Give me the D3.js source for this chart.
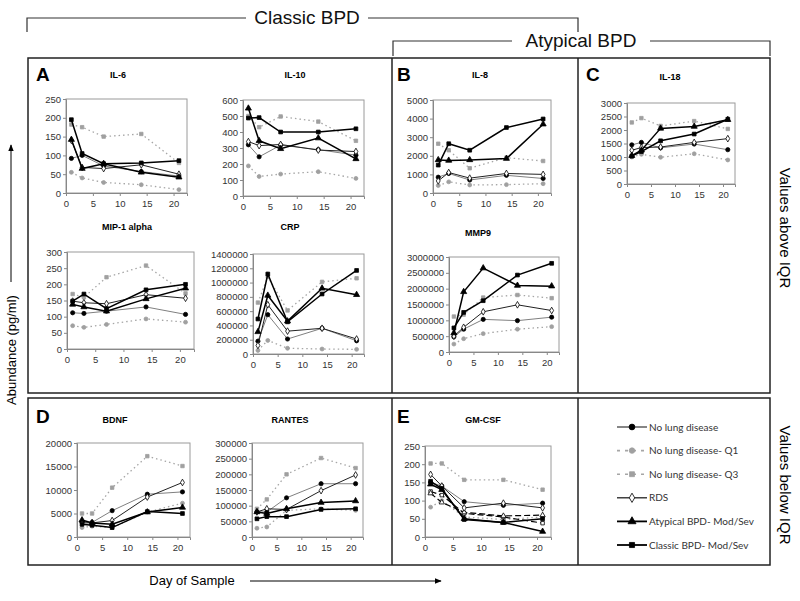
<!DOCTYPE html>
<html>
<head>
<meta charset="utf-8">
<script src="https://d3js.org/d3.v7.min.js"></script>
<style>
  body { margin: 0; background: #fff; }
  svg { display: block; }
</style>
</head>
<body>
<div id="chart"></div>
<script>
// Sample days shared by every panel
const days = [1, 3, 7, 14, 21];
const xTicks = [0, 5, 10, 15, 20];

// Values, one small object per analyte
const il6 = {
  q1: [55, 40, 28, 22, 9],
  q3: [182, 175, 150, 157, 80],
  noLung: [92, 100, 72, 57, 45],
  rds: [140, 68, 65, 75, 50],
  atypical: [142, 65, 78, 55, 42],
  classic: [195, 105, 78, 80, 86]
};
const il10 = {
  q1: [188, 122, 137, 152, 110],
  q3: [500, 430, 497, 465, 345],
  noLung: [320, 245, 318, 290, 255],
  rds: [340, 315, 322, 287, 278],
  atypical: [548, 345, 295, 362, 232],
  classic: [487, 490, 400, 400, 420]
};
const mip1a = {
  q1: [72, 67, 76, 93, 83],
  q3: [170, 160, 222, 258, 172],
  noLung: [112, 110, 117, 130, 107],
  rds: [148, 143, 140, 168, 157],
  atypical: [138, 130, 117, 155, 188],
  classic: [148, 170, 125, 183, 200]
};
const crp = {
  q1: [50000, 190000, 80000, 70000, 65000],
  q3: [720000, 1080000, 610000, 1010000, 1060000],
  noLung: [180000, 550000, 210000, 360000, 185000],
  rds: [120000, 690000, 320000, 360000, 210000],
  atypical: [310000, 820000, 460000, 920000, 830000],
  classic: [490000, 1120000, 450000, 840000, 1170000]
};
const il8 = {
  q1: [400, 600, 430, 450, 500],
  q3: [2650, 2300, 1330, 1900, 1720],
  noLung: [850, 1050, 700, 950, 780],
  rds: [650, 1100, 800, 1050, 1000],
  atypical: [1780, 1750, 1780, 1850, 3700],
  classic: [1500, 2650, 2300, 3520, 3980]
};
const mmp9 = {
  q1: [250000, 420000, 580000, 720000, 800000],
  q3: [1120000, 1180000, 1720000, 1800000, 1700000],
  noLung: [480000, 720000, 1030000, 990000, 1100000],
  rds: [500000, 780000, 1270000, 1490000, 1310000],
  atypical: [600000, 1900000, 2650000, 2100000, 2080000],
  classic: [760000, 1250000, 1620000, 2430000, 2800000]
};
const il18 = {
  q1: [1000, 1100, 990, 1120, 890],
  q3: [2280, 2440, 2150, 2330, 2040],
  noLung: [1450, 1540, 1340, 1480, 1270],
  rds: [1250, 1350, 1370, 1540, 1680],
  atypical: [1050, 1250, 2060, 2130, 2380],
  classic: [1030, 1200, 1600, 1850, 2400]
};
const bdnf = {
  q1: [2000, 2300, 2000, 5300, 7200],
  q3: [5000, 5000, 10500, 17200, 15100],
  noLung: [3200, 3100, 5600, 9100, 9600],
  rds: [3000, 3000, 3500, 8500, 11600],
  atypical: [3600, 3000, 2700, 5300, 6300],
  classic: [2700, 2500, 2000, 5400, 5000]
};
const rantes = {
  q1: [28000, 32000, 85000, 90000, 85000],
  q3: [90000, 120000, 200000, 252000, 220000],
  noLung: [80000, 80000, 125000, 170000, 170000],
  rds: [80000, 90000, 88000, 148000, 198000],
  atypical: [80000, 75000, 90000, 110000, 115000],
  classic: [58000, 65000, 65000, 88000, 90000]
};
const gmcsf = {
  q1: [82, 100, 55, 48, 55],
  q3: [202, 202, 157, 157, 130],
  dashA: [125, 115, 65, 55, 38],
  dashB: [120, 95, 68, 58, 60],
  noLung: [150, 140, 97, 87, 93],
  rds: [172, 140, 80, 93, 80],
  atypical: [145, 130, 50, 40, 15],
  classic: [153, 133, 48, 40, 50]
};

const legendKeys = ["noLung", "q1", "q3", "rds", "atypical", "classic"];
const legendLabels = ["No lung disease", "No lung disease- Q1", "No lung disease- Q3",
  "RDS", "Atypical BPD- Mod/Sev", "Classic BPD- Mod/Sev"];

// Line + marker look of each series
const styles = {
  noLung:   { line: "#808080", width: 1,   dash: null,    sym: d3.symbolCircle,   size: 14, fill: "#000", stroke: "#000" },
  q1:       { line: "#a6a6a6", width: 1.3, dash: "1.5,3", sym: d3.symbolCircle,   size: 12, fill: "#a0a0a0", stroke: "#a0a0a0" },
  q3:       { line: "#a6a6a6", width: 1.3, dash: "1.5,3", sym: d3.symbolSquare,   size: 12, fill: "#a0a0a0", stroke: "#a0a0a0" },
  dashA:    { line: "#000",    width: 1.2, dash: "6,3",   sym: d3.symbolSquare,   size: 12, fill: "#fff", stroke: "#000" },
  dashB:    { line: "#000",    width: 1.2, dash: "6,3",   sym: d3.symbolTriangle, size: 12, fill: "#fff", stroke: "#000" },
  rds:      { line: "#222",    width: 1,   dash: null,    sym: d3.symbolDiamond,  size: 13, fill: "#fff", stroke: "#000" },
  atypical: { line: "#000",    width: 1.5, dash: null,    sym: d3.symbolTriangle, size: 16, fill: "#000", stroke: "#000" },
  classic:  { line: "#000",    width: 1.5, dash: null,    sym: d3.symbolSquare,   size: 14, fill: "#000", stroke: "#000" }
};

const panels = [
  { data: il6,    title: "IL-6",        tx: 118, ty: 75,  l: 66,  r: 187, t: 99,  b: 193, yMax: 250,     step: 50 },
  { data: il10,   title: "IL-10",       tx: 295, ty: 75,  l: 243, r: 364, t: 100, b: 196, yMax: 600,     step: 100 },
  { data: mip1a,  title: "MIP-1 alpha", tx: 127, ty: 227, l: 67,  r: 194, t: 252, b: 349, yMax: 300,     step: 50 },
  { data: crp,    title: "CRP",         tx: 290, ty: 227, l: 253, r: 364, t: 254, b: 354, yMax: 1400000, step: 200000 },
  { data: il8,    title: "IL-8",        tx: 480, ty: 75,  l: 433, r: 551, t: 100, b: 193, yMax: 5000,    step: 1000 },
  { data: mmp9,   title: "MMP9",        tx: 478, ty: 233, l: 449, r: 559, t: 257, b: 352, yMax: 3000000, step: 500000 },
  { data: il18,   title: "IL-18",       tx: 670, ty: 77,  l: 627, r: 735, t: 103, b: 184, yMax: 3000,    step: 500 },
  { data: bdnf,   title: "BDNF",        tx: 115, ty: 420, l: 77,  r: 190, t: 443, b: 537, yMax: 20000,   step: 5000 },
  { data: rantes, title: "RANTES",      tx: 290, ty: 420, l: 252, r: 363, t: 443, b: 537, yMax: 300000,  step: 50000 },
  { data: gmcsf,  title: "GM-CSF",      tx: 483, ty: 420, l: 425, r: 551, t: 446, b: 537, yMax: 250,     step: 50 }
];

const width = 800, height = 601;
const svg = d3.select("#chart").append("svg")
  .attr("width", width).attr("height", height)
  .style("font-family", "'Liberation Sans', Arial, sans-serif");

svg.append("defs").append("marker")
  .attr("id", "arrow").attr("viewBox", "0 0 10 10")
  .attr("refX", 9).attr("refY", 5)
  .attr("markerWidth", 7).attr("markerHeight", 7)
  .attr("orient", "auto-start-reverse")
  .append("path").attr("d", "M0,1 L10,5 L0,9 z").attr("fill", "#000");

// --- brackets on top ---
const bracket = svg.append("g").attr("fill", "none").attr("stroke", "#333").attr("stroke-width", 1.2);
bracket.append("path").attr("d", "M27,32 V18 H246 M368,18 H578 V32");
bracket.append("path").attr("d", "M393,56 V41 H512 M650,41 H770 V56");
svg.append("text").attr("x", 307).attr("y", 24).attr("text-anchor", "middle")
  .style("font-size", "19px").attr("fill", "#111").text("Classic BPD");
svg.append("text").attr("x", 581).attr("y", 47).attr("text-anchor", "middle")
  .style("font-size", "19px").attr("fill", "#111").text("Atypical BPD");

// --- panel frames ---
const frame = svg.append("g").attr("fill", "none").attr("stroke", "#222").attr("stroke-width", 1.5);
frame.append("rect").attr("x", 28).attr("y", 58).attr("width", 742).attr("height", 335);
frame.append("rect").attr("x", 28).attr("y", 398).attr("width", 742).attr("height", 167);
[392, 578].forEach(x => {
  frame.append("line").attr("x1", x).attr("x2", x).attr("y1", 58).attr("y2", 393);
  frame.append("line").attr("x1", x).attr("x2", x).attr("y1", 398).attr("y2", 565);
});

[["A", 36, 81], ["B", 397, 81], ["C", 586, 81], ["D", 36, 423], ["E", 397, 423]].forEach(([t, x, y]) => {
  svg.append("text").attr("x", x).attr("y", y)
    .style("font-size", "19px").style("font-weight", "bold").text(t);
});

// --- side labels and arrows ---
svg.append("text").attr("transform", "translate(16,350) rotate(-90)")
  .attr("text-anchor", "middle").style("font-size", "13px").text("Abundance (pg/ml)");
svg.append("line").attr("x1", 11).attr("x2", 11).attr("y1", 282).attr("y2", 145)
  .attr("stroke", "#000").attr("stroke-width", 1).attr("marker-end", "url(#arrow)");
svg.append("text").attr("x", 192).attr("y", 585)
  .attr("text-anchor", "middle").style("font-size", "13px").text("Day of Sample");
svg.append("line").attr("x1", 250).attr("x2", 441).attr("y1", 581).attr("y2", 581)
  .attr("stroke", "#000").attr("stroke-width", 1).attr("marker-end", "url(#arrow)");
svg.append("text").attr("transform", "translate(780,228) rotate(90)")
  .attr("text-anchor", "middle").style("font-size", "15px").text("Values above IQR");
svg.append("text").attr("transform", "translate(780,485) rotate(90)")
  .attr("text-anchor", "middle").style("font-size", "15px").text("Values below IQR");

// --- small multiples ---
function drawPanel(p) {
  const x = d3.scaleLinear().domain([0, 22.5]).range([p.l, p.r]);
  const y = d3.scaleLinear().domain([0, p.yMax]).range([p.b, p.t]);
  const g = svg.append("g");

  g.append("text").attr("x", p.tx).attr("y", p.ty + 3).attr("text-anchor", "middle")
    .style("font-size", "9px").style("font-weight", "bold").text(p.title);

  g.append("rect").attr("x", p.l).attr("y", p.t).attr("width", p.r - p.l).attr("height", p.b - p.t)
    .attr("fill", "none").attr("stroke", "#9a9a9a").attr("stroke-width", 1);

  const yAxis = g.append("g").attr("transform", `translate(${p.l},0)`)
    .call(d3.axisLeft(y).tickValues(d3.range(0, p.yMax + 1, p.step)).tickSize(3).tickPadding(2).tickFormat(d3.format("d")));
  const xAxis = g.append("g").attr("transform", `translate(0,${p.b})`)
    .call(d3.axisBottom(x).tickValues(xTicks).tickSize(3).tickPadding(4));
  [xAxis, yAxis].forEach(a => {
    a.select(".domain").attr("stroke", "#888");
    a.selectAll(".tick line").attr("stroke", "#888");
    a.selectAll("text").style("font-size", "9.5px").style("font-family", "'Liberation Sans', Arial, sans-serif").attr("fill", "#333");
  });

  const line = d3.line().x((d, i) => x(days[i])).y(d => y(d));
  Object.keys(p.data).forEach(key => {
    const s = styles[key];
    const vals = p.data[key];
    g.append("path").datum(vals).attr("d", line)
      .attr("fill", "none").attr("stroke", s.line).attr("stroke-width", s.width)
      .attr("stroke-dasharray", s.dash);
    g.selectAll(null).data(vals).join("path")
      .attr("transform", (d, i) => `translate(${x(days[i])},${y(d)})`)
      .attr("d", d3.symbol().type(s.sym).size(s.size))
      .attr("fill", s.fill).attr("stroke", s.stroke).attr("stroke-width", 0.8);
  });
}
panels.forEach(drawPanel);

// --- legend ---
const legend = svg.append("g");
legendKeys.forEach((key, i) => {
  const s = styles[key];
  const ly = 427 + i * 23.6;
  legend.append("line").attr("x1", 617).attr("x2", 647).attr("y1", ly).attr("y2", ly)
    .attr("stroke", key === "noLung" ? "#444" : s.line).attr("stroke-width", s.width + 0.3)
    .attr("stroke-dasharray", s.dash ? "3,5" : null);
  legend.append("path").attr("transform", `translate(632,${ly})`)
    .attr("d", d3.symbol().type(s.sym).size(s.size + 12))
    .attr("fill", s.fill).attr("stroke", s.stroke).attr("stroke-width", 0.8);
  legend.append("text").attr("x", 649).attr("y", ly + 3.5)
    .style("font-family", "Lato, 'Open Sans', sans-serif").style("font-size", "10px")
    .attr("fill", "#333").text(legendLabels[i]);
});
</script>
</body>
</html>
